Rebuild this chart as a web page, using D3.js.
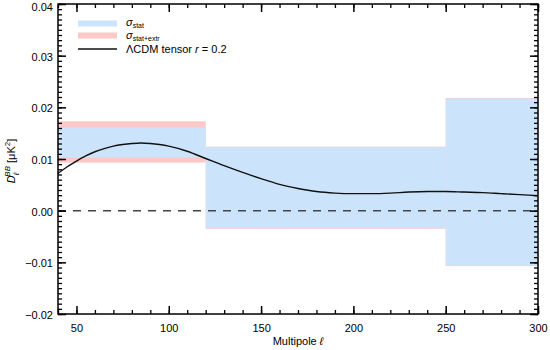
<!DOCTYPE html>
<html><head><meta charset="utf-8">
<script src="https://cdn.jsdelivr.net/npm/d3@7"></script>
<style>body{margin:0;background:#fff}svg{display:block}text{font-family:"Liberation Sans",Arial,sans-serif}</style>
</head><body><svg id="c" width="550" height="350"></svg>
<script>
// Bins (multipole ranges)
const binLo = [40, 120, 250];
const binHi = [120, 250, 300];
// sigma_stat band limits
const statLo = [0.0103, -0.0034, -0.0106];
const statHi = [0.0161, 0.0123, 0.0217];
// sigma_stat+extr band limits
const extrLo = [0.0093, -0.0035, -0.0107];
const extrHi = [0.0173, 0.0124, 0.0218];
// LCDM tensor r=0.2 model
const ell = [40,45,50,55,60,65,70,75,80,85,90,95,100,110,120,130,140,150,160,170,180,190,200,210,220,230,240,250,260,270,280,290,300];
const dbb = [0.0072,0.0085,0.0096,0.0106,0.0114,0.0120,0.0125,0.0128,0.0130,0.0131,0.0130,0.0128,0.0125,0.0115,0.0101,0.0087,0.0074,0.0062,0.0051,0.0043,0.0037,0.0034,0.0033,0.0033,0.0034,0.0036,0.0037,0.0037,0.0036,0.0035,0.0033,0.0031,0.0029];
const xTicks = [50,100,150,200,250,300];
const yTicks = [-0.02,-0.01,0.00,0.01,0.02,0.03,0.04];

const svg = d3.select("#c");
const L=58, R=538, T=4, B=314;
const x = d3.scaleLinear().domain([40,300]).range([L,R]);
const y = d3.scaleLinear().domain([-0.02,0.04]).range([B,T]);

const g = svg.append("g");
// pink bands
g.selectAll("rect.e").data(binLo).enter().append("rect")
  .attr("x",(d,i)=>x(binLo[i])).attr("width",(d,i)=>x(binHi[i])-x(binLo[i]))
  .attr("y",(d,i)=>y(extrHi[i])).attr("height",(d,i)=>y(extrLo[i])-y(extrHi[i]))
  .attr("fill","#fdc8c8");
// blue bands
g.selectAll("rect.s").data(binLo).enter().append("rect")
  .attr("x",(d,i)=>x(binLo[i])).attr("width",(d,i)=>x(binHi[i])-x(binLo[i]))
  .attr("y",(d,i)=>y(statHi[i])).attr("height",(d,i)=>y(statLo[i])-y(statHi[i]))
  .attr("fill","#cce4fb");
// zero line
g.append("line").attr("x1",x(40)).attr("x2",x(300)).attr("y1",y(0)).attr("y2",y(0))
  .attr("stroke","#444").attr("stroke-width",1.5).attr("stroke-dasharray","8,7");
// model curve
const line = d3.line().x((d,i)=>x(ell[i])).y(d=>y(d)).curve(d3.curveMonotoneX);
g.append("path").datum(dbb).attr("d",line).attr("fill","none").attr("stroke","#111").attr("stroke-width",1.4);

// frame
svg.append("rect").attr("x",L).attr("y",T).attr("width",R-L).attr("height",B-T)
  .attr("fill","none").attr("stroke","#000").attr("stroke-width",1.5);

const fmtY = d => (d<0?"\u2212":"") + Math.abs(d).toFixed(2);
const xMinor = d3.range(40,301,10);
const yMinor = d3.range(-20,41,1).map(v=>v/1000);
function ticks(axisGen, tr, major, minor, lenMaj, lenMin, labels){
  const a = svg.append("g").attr("transform",tr);
  a.call(axisGen.tickValues(minor).tickSize(lenMin).tickFormat(""));
  a.select(".domain").remove();
  a.selectAll("line").attr("stroke","#000").attr("stroke-width",1.3);
  const b = svg.append("g").attr("transform",tr);
  b.call(axisGen.tickValues(major).tickSize(lenMaj).tickPadding(labels?-lenMaj+6:0).tickFormat(labels||""));
  b.select(".domain").remove();
  b.selectAll("line").attr("stroke","#000").attr("stroke-width",1.5);
  b.selectAll("text").attr("fill","#000").style("font-size","11px");
  return b;
}
// bottom (ticks inward = negative size)
ticks(d3.axisBottom(x), `translate(0,${B})`, xTicks, xMinor, -8, -4, d=>d)
  .selectAll("text").attr("y",10).attr("dy","0.71em");
ticks(d3.axisTop(x), `translate(0,${T})`, xTicks, xMinor, -8, -4, null);
ticks(d3.axisLeft(y), `translate(${L},0)`, yTicks, yMinor, -8, -4, fmtY)
  .selectAll("text").attr("x",-5).attr("dy",(d)=> d===0.04 ? "0.55em" : "0.4em");
ticks(d3.axisRight(y), `translate(${R},0)`, yTicks, yMinor, -8, -4, null);

// axis titles
svg.append("text").attr("x",(L+R)/2).attr("y",345).attr("text-anchor","middle").style("font-size","11px")
  .html('Multipole <tspan font-style="italic">ℓ</tspan>');
svg.append("text").attr("transform","translate(15,161) rotate(-90)").attr("text-anchor","middle").style("font-size","11px")
  .html('<tspan font-style="italic">D</tspan><tspan font-size="8px" font-style="italic" dy="4">ℓ</tspan><tspan font-size="8px" font-style="italic" dy="-9" dx="-4">BB</tspan><tspan dy="5" dx="3">[μK</tspan><tspan font-size="8px" dy="-5">2</tspan><tspan dy="5">]</tspan>');

// legend
const leg = svg.append("g");
leg.append("line").attr("x1",78).attr("x2",117).attr("y1",23.5).attr("y2",23.5).attr("stroke","#cce4fb").attr("stroke-width",6);
leg.append("line").attr("x1",78).attr("x2",117).attr("y1",35.5).attr("y2",35.5).attr("stroke","#fdc8c8").attr("stroke-width",6);
leg.append("line").attr("x1",78).attr("x2",117).attr("y1",49).attr("y2",49).attr("stroke","#111").attr("stroke-width",1.4);
leg.append("text").attr("x",126).attr("y",26).style("font-size","11px")
  .html('<tspan font-style="italic">σ</tspan><tspan font-size="7px" dy="2">stat</tspan>');
leg.append("text").attr("x",126).attr("y",39).style("font-size","11px")
  .html('<tspan font-style="italic">σ</tspan><tspan font-size="7px" dy="2">stat+extr</tspan>');
leg.append("text").attr("x",126).attr("y",53).style("font-size","11px")
  .html('ΛCDM tensor <tspan font-style="italic">r</tspan> = 0.2');
</script></body></html>
